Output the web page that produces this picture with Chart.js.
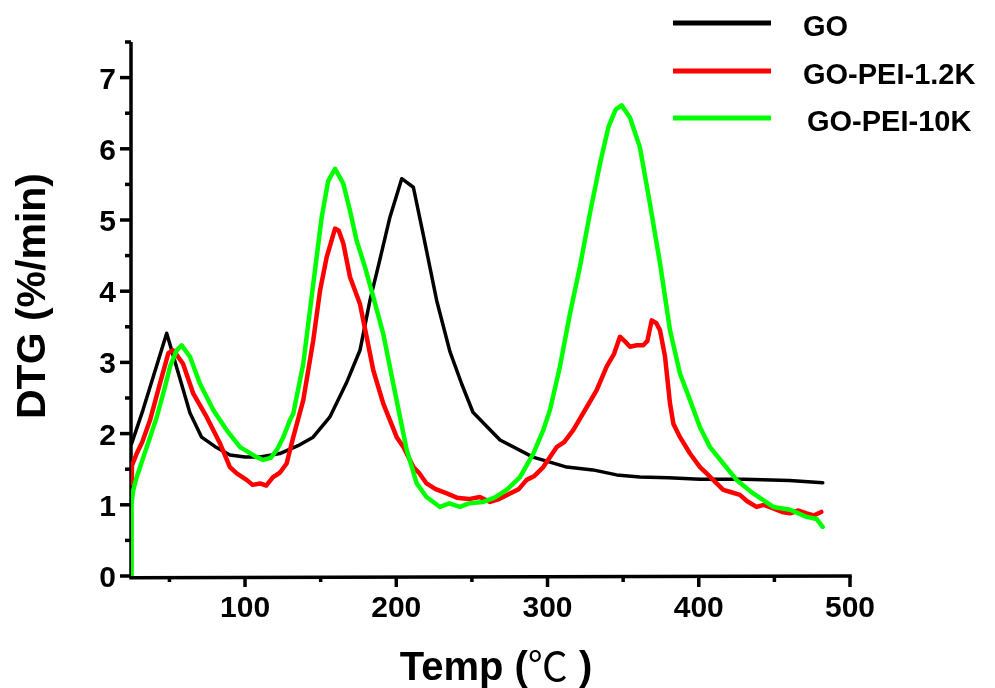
<!DOCTYPE html>
<html>
<head>
<meta charset="utf-8">
<script src="https://cdn.jsdelivr.net/npm/chart.js@4.4.1/dist/chart.umd.min.js"></script>
<style>
  html, body { margin: 0; padding: 0; background: #fff; }
  #wrap { width: 995px; height: 688px; }
</style>
</head>
<body>
<div id="wrap"><canvas id="dtg" width="995" height="688"></canvas></div>
<script>
// --- data ---
const seriesNames = ['GO', 'GO-PEI-1.2K', 'GO-PEI-10K'];
const seriesColors = ['#000000', '#ff0000', '#00ff00'];

const goX = [25, 32.5, 48.2, 63.6, 71.3, 80, 90, 100, 110, 123, 135, 145, 156, 167, 176, 182.6, 189, 195.8, 203.6, 211.3, 217.7, 226.7, 235.5, 243.2, 250.7, 268.6, 290.4, 301.6, 312.7, 330, 345.7, 361, 380, 400.8, 430, 460, 482];
const goY = [1.86, 2.33, 3.41, 2.29, 1.95, 1.82, 1.70, 1.67, 1.67, 1.72, 1.83, 1.95, 2.23, 2.71, 3.17, 3.87, 4.43, 5.04, 5.58, 5.46, 4.81, 3.87, 3.15, 2.70, 2.30, 1.91, 1.67, 1.60, 1.53, 1.49, 1.42, 1.39, 1.38, 1.36, 1.36, 1.34, 1.31];

const pei12X = [24.8, 25.2, 28.4, 32, 37.2, 43.8, 49.3, 52.4, 55, 59, 65.8, 74.7, 83.5, 90, 94.5, 101, 105, 110, 114, 118.5, 123, 127.5, 131.9, 138.5, 145.1, 149.6, 154, 159.5, 162, 165, 169.4, 176, 180.4, 184.8, 191.4, 200.3, 205, 211.3, 215, 220, 226, 233.4, 240, 248, 255.3, 262, 268, 275.2, 281, 286.2, 291, 297.2, 306, 311, 317, 325.9, 332.5, 339.1, 344, 347.9, 351, 354.5, 359, 363.3, 366, 368.9, 372, 374.4, 377.7, 381, 383.2, 387.6, 394.2, 400.8, 405.2, 411, 416.2, 421, 427.2, 432, 438.2, 443, 449.3, 455, 460.3, 466, 471.3, 476, 481];
const pei12Y = [1.30, 1.55, 1.72, 1.88, 2.19, 2.71, 3.13, 3.17, 3.10, 2.98, 2.56, 2.23, 1.86, 1.53, 1.44, 1.35, 1.28, 1.30, 1.27, 1.39, 1.45, 1.58, 1.95, 2.47, 3.31, 4.01, 4.48, 4.88, 4.85, 4.67, 4.20, 3.82, 3.36, 2.89, 2.42, 1.95, 1.80, 1.53, 1.45, 1.30, 1.22, 1.16, 1.10, 1.08, 1.11, 1.04, 1.08, 1.16, 1.22, 1.35, 1.40, 1.53, 1.81, 1.88, 2.05, 2.37, 2.61, 2.94, 3.12, 3.36, 3.30, 3.22, 3.24, 3.24, 3.30, 3.59, 3.55, 3.45, 3.08, 2.42, 2.14, 1.95, 1.72, 1.53, 1.44, 1.32, 1.21, 1.18, 1.14, 1.05, 0.97, 1.00, 0.95, 0.90, 0.88, 0.92, 0.88, 0.85, 0.90];

const pei10X = [24.9, 25.0, 26, 28.4, 35, 41.6, 47.1, 50.4, 54.8, 58.1, 63.6, 70.2, 79, 87.8, 96.7, 107.7, 112, 117, 121, 125.3, 129.7, 131.9, 138.5, 145.1, 150.7, 155, 159.5, 165, 169.4, 173.8, 179.3, 184.8, 191.4, 198, 202.5, 206.9, 213.5, 220, 228.9, 235, 242.1, 248, 257.5, 265, 273, 281.8, 290.6, 297.2, 301.6, 308.2, 314.8, 321.4, 328, 334.7, 340.2, 345, 349, 354.5, 361.1, 367.7, 374.4, 381, 387.6, 394.2, 400.8, 407.4, 416.2, 425, 436, 449.3, 460.3, 471.3, 478, 481.9];
const pei10Y = [0, 1.02, 1.20, 1.39, 1.81, 2.23, 2.66, 2.94, 3.17, 3.24, 3.08, 2.70, 2.33, 2.05, 1.81, 1.67, 1.63, 1.66, 1.77, 1.95, 2.19, 2.28, 2.98, 4.10, 5.04, 5.55, 5.72, 5.51, 5.13, 4.71, 4.34, 3.92, 3.40, 2.70, 2.23, 1.77, 1.30, 1.11, 0.97, 1.02, 0.97, 1.02, 1.04, 1.10, 1.21, 1.39, 1.72, 2.05, 2.33, 2.94, 3.68, 4.34, 5.09, 5.79, 6.30, 6.55, 6.61, 6.44, 6.02, 5.23, 4.39, 3.45, 2.84, 2.47, 2.09, 1.81, 1.58, 1.35, 1.16, 0.97, 0.93, 0.83, 0.80, 0.69];

const xMajorTicks = [100, 200, 300, 400, 500];
const xTickLabels = ['100', '200', '300', '400', '500'];
const xMinorTicks = [50, 150, 250, 350, 450];
const yMajorTicks = [0, 1, 2, 3, 4, 5, 6, 7];
const yTickLabels = ['0', '1', '2', '3', '4', '5', '6', '7'];
const yMinorTicks = [0.5, 1.5, 2.5, 3.5, 4.5, 5.5, 6.5, 7.5];

const xTitle = 'Temp (';
const xTitleUnit = '℃';
const xTitleEnd = ' )';
const yTitle = 'DTG (%/min)';

const toPoints = (xs, ys) => xs.map((x, i) => ({ x: x, y: ys[i] }));

const BOLD = '"Liberation Sans", Arial, sans-serif';

// axes, ticks, titles and legend drawn on the canvas from the chart's scales
const frame = {
    id: 'frame',
    beforeDatasetsDraw(chart) {
        const { ctx, scales: { x, y } } = chart;
        const x0 = x.getPixelForValue(x.min), x1 = x.getPixelForValue(x.max);
        const y0 = y.getPixelForValue(0), y1 = y.getPixelForValue(y.max);
        ctx.save();
        ctx.strokeStyle = '#000';
        ctx.lineWidth = 3.5;
        ctx.lineCap = 'butt';
        ctx.beginPath();
        ctx.moveTo(x0, y1);
        ctx.lineTo(x0, y0 + 1.75);
        ctx.lineTo(x1 + 1.75, y0);
        ctx.stroke();

        // ticks
        ctx.lineWidth = 3.5;
        xMajorTicks.forEach(v => {
            const px = x.getPixelForValue(v);
            ctx.beginPath(); ctx.moveTo(px, y0); ctx.lineTo(px, y0 + 11); ctx.stroke();
        });
        xMinorTicks.forEach(v => {
            const px = x.getPixelForValue(v);
            ctx.beginPath(); ctx.moveTo(px, y0); ctx.lineTo(px, y0 + 6); ctx.stroke();
        });
        yMajorTicks.forEach(v => {
            const py = y.getPixelForValue(v);
            ctx.beginPath(); ctx.moveTo(x0, py); ctx.lineTo(x0 - 11, py); ctx.stroke();
        });
        yMinorTicks.forEach(v => {
            const py = y.getPixelForValue(v);
            ctx.beginPath(); ctx.moveTo(x0, py); ctx.lineTo(x0 - 6, py); ctx.stroke();
        });

        // tick labels
        ctx.fillStyle = '#000';
        ctx.font = 'bold 30px ' + BOLD;
        ctx.textAlign = 'center';
        ctx.textBaseline = 'alphabetic';
        xMajorTicks.forEach((v, i) => ctx.fillText(xTickLabels[i], x.getPixelForValue(v), y0 + 41));
        ctx.textAlign = 'right';
        yMajorTicks.forEach((v, i) => ctx.fillText(yTickLabels[i], x0 - 15, y.getPixelForValue(v) + 11));

        // x title, the degree sign in a lighter face
        ctx.textAlign = 'left';
        const fBold = 'bold 40px ' + BOLD;
        const fUnit = '40px "Noto Sans CJK SC", "Noto Sans", sans-serif';
        ctx.font = fBold;
        const w1 = ctx.measureText(xTitle).width;
        const w3 = ctx.measureText(xTitleEnd).width;
        ctx.font = fUnit;
        const w2 = ctx.measureText(xTitleUnit).width;
        let tx = 496 - (w1 + w2 + w3) / 2;
        const ty = 680;
        ctx.font = fBold; ctx.fillText(xTitle, tx, ty); tx += w1;
        ctx.font = fUnit; ctx.fillText(xTitleUnit, tx, ty + 1); tx += w2;
        ctx.font = fBold; ctx.fillText(xTitleEnd, tx, ty);

        // y title
        ctx.save();
        ctx.translate(45, 296);
        ctx.rotate(-Math.PI / 2);
        ctx.textAlign = 'center';
        ctx.font = 'bold 41px ' + BOLD;
        ctx.fillText(yTitle, 0, 0);
        ctx.restore();

        // legend
        const legY = [23, 71, 118];
        const legTX = [803, 803, 807];
        ctx.lineWidth = 5;
        ctx.font = 'bold 29px ' + BOLD;
        ctx.textAlign = 'left';
        seriesNames.forEach((name, i) => {
            ctx.strokeStyle = seriesColors[i];
            ctx.beginPath(); ctx.moveTo(673, legY[i]); ctx.lineTo(771, legY[i]); ctx.stroke();
            ctx.fillStyle = '#000';
            ctx.fillText(name, legTX[i], legY[i] + 13);
        });
        ctx.restore();
    }
};

new Chart(document.getElementById('dtg'), {
    type: 'line',
    data: {
        datasets: [
            { label: seriesNames[0], data: toPoints(goX, goY), borderColor: seriesColors[0], borderWidth: 3.5, order: 3 },
            { label: seriesNames[1], data: toPoints(pei12X, pei12Y), borderColor: seriesColors[1], borderWidth: 4.5, order: 2 },
            { label: seriesNames[2], data: toPoints(pei10X, pei10Y), borderColor: seriesColors[2], borderWidth: 4.5, order: 1 }
        ]
    },
    options: {
        responsive: false,
        animation: false,
        devicePixelRatio: 1,
        layout: { padding: { left: 131, right: 145, top: 42, bottom: 112 } },
        elements: { point: { radius: 0 }, line: { tension: 0, borderJoinStyle: 'round', borderCapStyle: 'round' } },
        plugins: { legend: { display: false }, tooltip: { enabled: false } },
        scales: {
            x: { type: 'linear', min: 24.6, max: 500, display: false },
            y: { type: 'linear', min: 0, max: 7.5, display: false }
        }
    },
    plugins: [frame]
});
</script>
</body>
</html>
